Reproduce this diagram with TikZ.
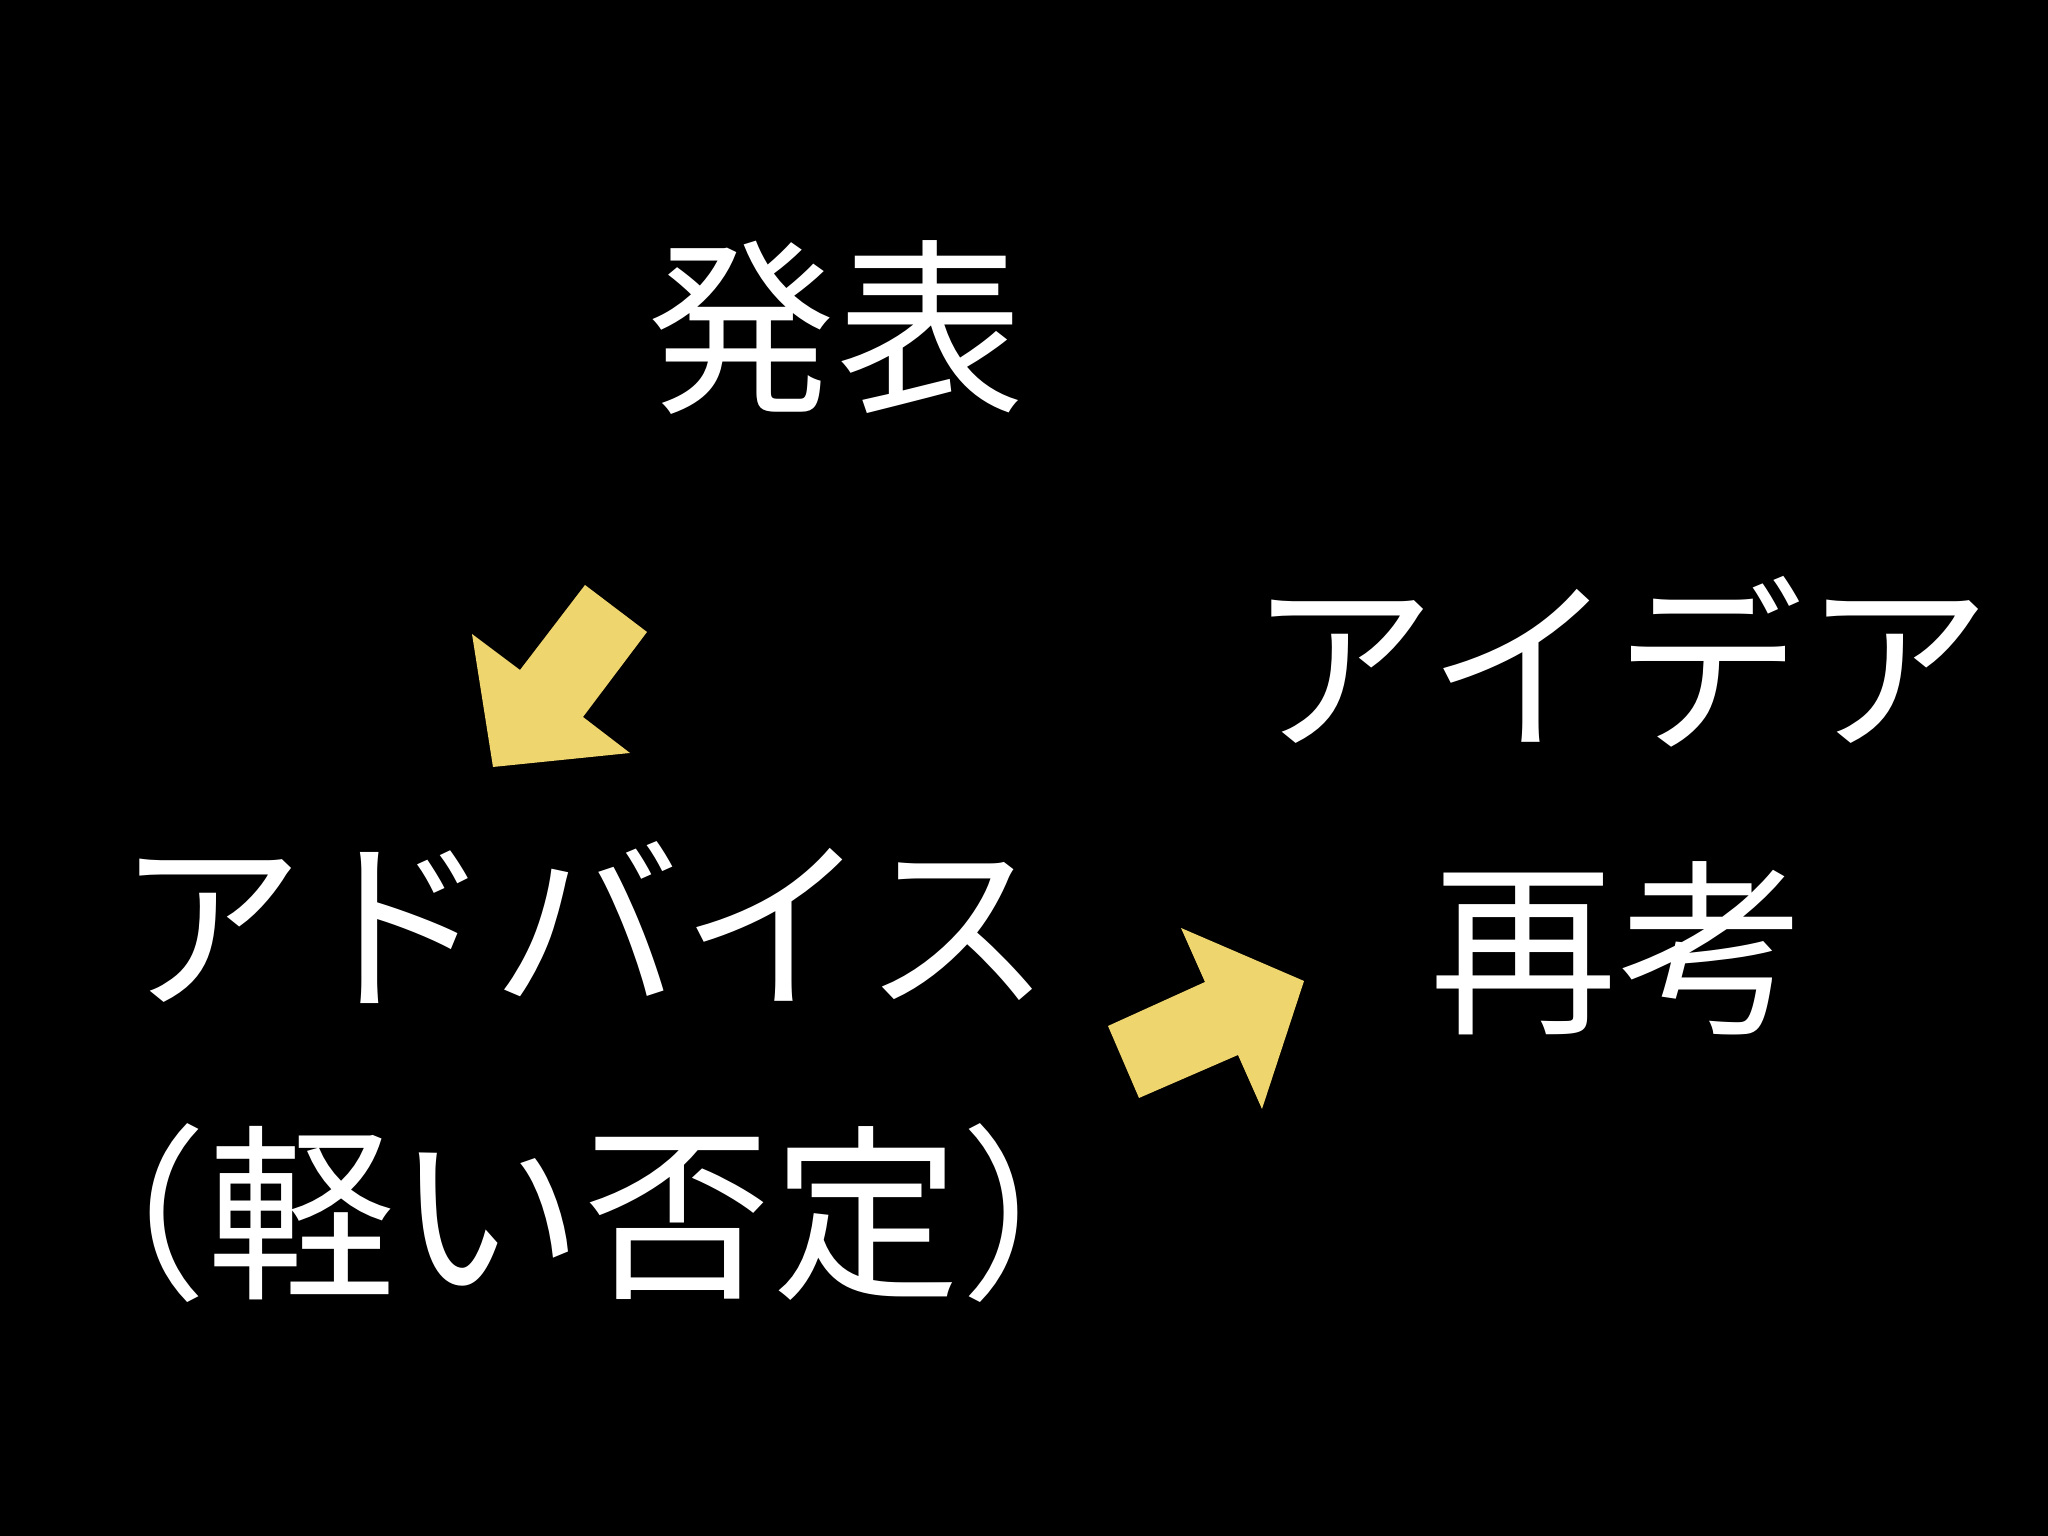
\documentclass[tikz,border=0pt]{standalone}
\usepackage{fontspec}
\newfontfamily\jpfont{Noto Sans CJK JP}
\usepackage{tikz}
\definecolor{arrowgold}{RGB}{239,213,110}
\tikzset{
  word/.style={text=white, inner sep=0pt, font=\jpfont\fontsize{53.5pt}{60pt}\selectfont},
  blockarrow/.style={fill=arrowgold, draw=none}
}

\begin{document}
\begin{tikzpicture}
    \fill[black] (0, 0) rectangle (20.48, 15.36);
    \useasboundingbox (0, 0) rectangle (20.48, 15.36);
    % words
    \node[word] (happyo) at (8.36, 12.08) {発表};
    \node[word] (idea) at (16.20, 8.74) {アイデア};
    \node[word] (advice) at (5.84, 6.13) {アドバイス};
    \node[word] (hitei) at (5.84, 3.23) {（軽い否定）};
    \node[word] (saiko) at (16.18, 5.88) {再考};
    % arrows
    \fill[blockarrow] (5.85, 9.51) -- (6.47, 9.04) -- (5.83, 8.19) -- (6.30, 7.83)
        -- (4.93, 7.69) -- (4.72, 9.02) -- (5.20, 8.66) -- cycle;
    \fill[blockarrow] (11.81, 6.08) -- (13.04, 5.55) -- (12.62, 4.27) -- (12.38, 4.81)
        -- (11.39, 4.38) -- (11.08, 5.10) -- (12.05, 5.54) -- cycle;
\end{tikzpicture}
\end{document}
